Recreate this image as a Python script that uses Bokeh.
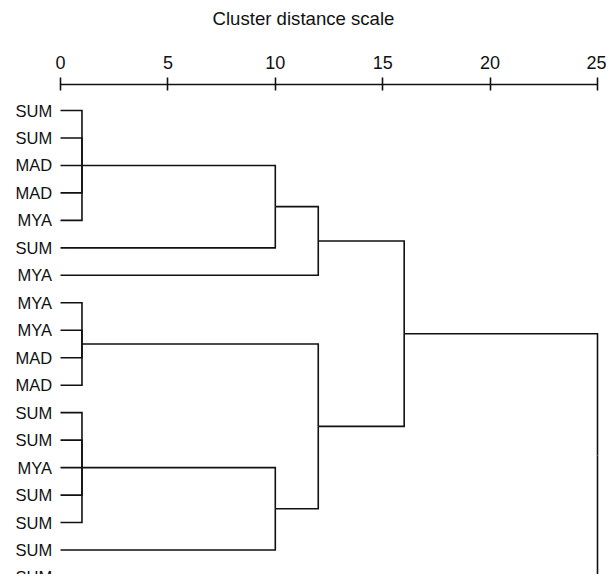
from bokeh.plotting import figure
from bokeh.models import Range1d, FixedTicker, ColumnDataSource
from bokeh.core.properties import value
from bokeh.embed import file_html
from bokeh.resources import INLINE

# ---- data ----
leaf_labels = ["SUM", "SUM", "MAD", "MAD", "MYA", "SUM", "MYA", "MYA", "MYA",
               "MAD", "MAD", "SUM", "SUM", "MYA", "SUM", "SUM", "SUM", "SUM"]
# merges: node ids 0..17 are leaves, merged nodes numbered from 18 in order
merge_children = [[0, 1, 2, 3, 4], [7, 8, 9, 10], [11, 12, 13, 14, 15],
                  [18, 5], [20, 16], [21, 6], [19, 22], [23, 24], [25, 17]]
merge_dist = [1, 1, 1, 10, 10, 12, 12, 16, 25]
axis_ticks = [0, 5, 10, 15, 20, 25]
axis_title = "Cluster distance scale"

# ---- build dendrogram paths ----
n_leaf = len(leaf_labels)
node_x = {i: 0.0 for i in range(n_leaf)}
node_y = {i: float(i) for i in range(n_leaf)}
xs, ys = [], []
for k, (ch, d) in enumerate(zip(merge_children, merge_dist)):
    nid = n_leaf + k
    cy = [node_y[c] for c in ch]
    py = sum(cy) / len(cy) if len(ch) > 2 else (min(cy) + max(cy)) / 2
    for c in ch:
        xs.append([node_x[c], d, d])
        ys.append([node_y[c], node_y[c], py])
    node_x[nid] = d
    node_y[nid] = py

FONT = "Liberation Sans"
W, H = 606, 574
TOP = 84
px_per_unit = 21.48
row_px = 27.47
x0_px = 60
row0_px = 26
frame_h = H - TOP

p = figure(width=W, height=H, output_backend="svg", toolbar_location=None,
           x_axis_location="above", y_axis_location=None,
           min_border_left=0, min_border_right=0, min_border_bottom=0,
           min_border_top=TOP,
           x_range=Range1d(-x0_px / px_per_unit, (W - x0_px) / px_per_unit),
           y_range=Range1d((frame_h - row0_px) / row_px, -row0_px / row_px))
p.outline_line_color = None
p.grid.visible = False
p.background_fill_color = "white"
p.border_fill_color = "white"

ax = p.xaxis[0]
ax.ticker = FixedTicker(ticks=axis_ticks)
ax.bounds = (axis_ticks[0], axis_ticks[-1])
ax.minor_tick_line_color = None
ax.major_tick_in = 6
ax.major_tick_out = 7
ax.axis_line_width = 1.6
ax.major_tick_line_width = 1.6
ax.axis_line_color = "#111111"
ax.major_tick_line_color = "#111111"
ax.major_label_text_font = FONT
ax.major_label_text_font_size = "18px"
ax.major_label_text_color = "#111111"
ax.major_label_standoff = 9
ax.axis_label = axis_title
ax.axis_label_text_font = FONT
ax.axis_label_text_font_style = "normal"
ax.axis_label_text_font_size = "18.6px"
ax.axis_label_text_color = "#111111"
ax.axis_label_standoff = 24

p.multi_line(xs=xs, ys=ys, line_color="#111111", line_width=1.6,
             line_join="miter")

src = ColumnDataSource(dict(x=[-0.39] * n_leaf, y=list(range(n_leaf)),
                            t=leaf_labels))
p.text(x="x", y="y", text="t", source=src, text_align="right",
       text_baseline="middle", text_font=value(FONT),
       text_font_size="16.5px", text_color="#111111")

open("out.html", "w").write(file_html(p, INLINE))
